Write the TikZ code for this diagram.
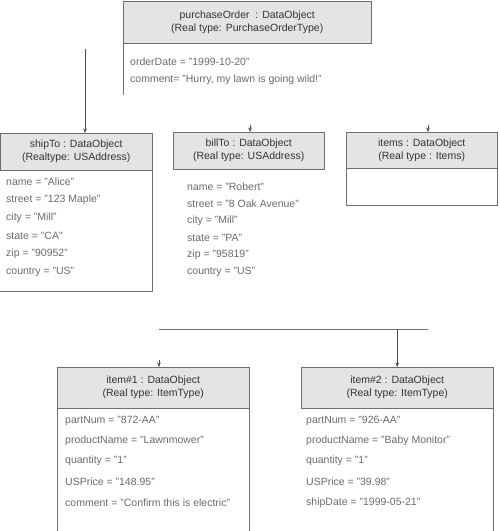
\documentclass[tikz,border=0pt]{standalone}
\usepackage{fontspec}
\setmainfont{Liberation Sans}
\usetikzlibrary{arrows.meta}

\definecolor{headfill}{HTML}{E4E4E4}
\definecolor{edgegrey}{HTML}{6E6E6E}
\definecolor{attrgrey}{HTML}{6A6A6A}

\begin{document}
\begin{tikzpicture}[
    x=1pt, y=-1pt,
    objhead/.style={rectangle, draw=edgegrey, fill=headfill, thin,
                    anchor=north west, align=center, inner sep=0pt,
                    font=\fontsize{10.5}{13}\selectfont, text=black!80},
    attr/.style={anchor=west, inner sep=0pt,
                 font=\fontsize{10.5}{12}\selectfont, text=attrgrey},
    rim/.style={draw=edgegrey, thin},
    arr/.style={-{Stealth[length=4.5pt,width=3.5pt]}, draw=black!70, thin},
]
\useasboundingbox (0,0) rectangle (500,531);

% purchaseOrder
\node[objhead, minimum width=248pt, minimum height=42pt] (po) at (123,1)
    {purchaseOrder\ \ : DataObject\\(Real type: PurchaseOrderType)};
\node[attr] (poDate) at (130,62) {orderDate = "1999-10-20"};
\node[attr] (poNote) at (130,80) {comment= "Hurry, my lawn is going wild!"};
\draw[rim] (po.south west) -- ++(0,52);

% shipTo
\node[objhead, minimum width=152pt, minimum height=37pt] (ship) at (0,133)
    {shipTo : DataObject\\(Realtype: USAddress)};
\node[attr] (shipName) at (6,182) {name = "Alice"};
\node[attr] (shipStreet) at (6,200) {street = "123 Maple"};
\node[attr] (shipCity) at (6,218) {city = "Mill"};
\node[attr] (shipState) at (6,236) {state = "CA"};
\node[attr] (shipZip) at (6,254) {zip = "90952"};
\node[attr] (shipCountry) at (6,272) {country = "US"};
\draw[rim] (ship.south east) -- ++(0,121) -- ++(-152,0);
\coordinate (poLeft) at (85,49);
\draw[arr] (poLeft) -- (poLeft |- ship.north);

% billTo
\node[objhead, minimum width=151pt, minimum height=37pt] (bill) at (173,132)
    {billTo : DataObject\\(Real type: USAddress)};
\node[attr] (billName) at (187,187) {name = "Robert"};
\node[attr] (billStreet) at (187,204) {street = "8 Oak Avenue"};
\node[attr] (billCity) at (187,221) {city = "Mill"};
\node[attr] (billState) at (187,238) {state = "PA"};
\node[attr] (billZip) at (187,255) {zip = "95819"};
\node[attr] (billCountry) at (187,272) {country = "US"};
\coordinate (billTip) at (250,125);
\draw[arr] (billTip) -- (billTip |- bill.north);

% items
\node[objhead, minimum width=151pt, minimum height=36pt] (items) at (346,132)
    {items : DataObject\\(Real type : Items)};
\draw[rim] (items.south east) -- ++(0,37) -| (items.south west);
\coordinate (itemsTip) at (428,125);
\draw[arr] (itemsTip) -- (itemsTip |- items.north);

% item#1
\node[objhead, minimum width=192pt, minimum height=41pt] (item1) at (57,367)
    {item\#1 : DataObject\\(Real type: ItemType)};
\node[attr] (oneNum) at (65,421) {partNum = "872-AA"};
\node[attr] (oneName) at (65,441) {productName = "Lawnmower"};
\node[attr] (oneQty) at (65,461) {quantity = "1"};
\node[attr] (onePrice) at (65,482) {USPrice = "148.95"};
\node[attr] (oneNote) at (65,503) {comment = "Confirm this is electric"};
\draw[rim] (item1.south west) -- ++(0,123);
\draw[rim] (item1.south east) -- ++(0,123);
\coordinate (oneTip) at (159,360);
\draw[arr] (oneTip) -- (oneTip |- item1.north);

% item#2
\node[objhead, minimum width=192pt, minimum height=41pt] (item2) at (301,367)
    {item\#2 : DataObject\\(Real type: ItemType)};
\node[attr] (twoNum) at (306,421) {partNum = "926-AA"};
\node[attr] (twoName) at (306,441) {productName = "Baby Monitor"};
\node[attr] (twoQty) at (306,461) {quantity = "1"};
\node[attr] (twoPrice) at (306,482) {USPrice = "39.98"};
\node[attr] (twoDate) at (306,503) {shipDate = "1999-05-21"};
\draw[rim] (item2.south east) -- ++(0,123);

% items fan-out
\coordinate (fanL) at (159,329);
\coordinate (fanR) at (428,329);
\draw[rim] (fanL) -- (fanR);
\draw[arr] (fanL -| item2.north) -- (item2.north);

\end{tikzpicture}
\end{document}
